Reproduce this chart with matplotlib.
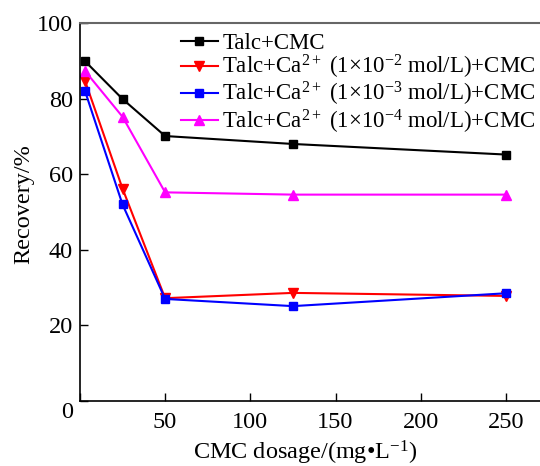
import matplotlib
matplotlib.use('Agg')
import matplotlib.pyplot as plt
import matplotlib.transforms as mtransforms

plt.rcParams['font.family'] = 'Liberation Serif'
plt.rcParams['mathtext.fontset'] = 'custom'
plt.rcParams['mathtext.rm'] = 'Liberation Serif'
plt.rcParams['mathtext.it'] = 'Liberation Serif:italic'

dosage = [3, 25, 50, 125, 250]
talc_cmc = [89.9, 79.9, 70.1, 68.0, 65.2]
ca_1e2 = [84.7, 56.2, 27.2, 28.6, 27.8]
ca_1e3 = [82.0, 52.0, 27.0, 25.1, 28.5]
ca_1e4 = [87.3, 75.2, 55.2, 54.6, 54.6]

labels = [
    'Talc+CMC',
    r'Talc+Ca$^{2+}$ (1×10$^{\mathregular{-2}}$ mol/L)+CMC',
    r'Talc+Ca$^{2+}$ (1×10$^{\mathregular{-3}}$ mol/L)+CMC',
    r'Talc+Ca$^{2+}$ (1×10$^{\mathregular{-4}}$ mol/L)+CMC',
]

fig = plt.figure(figsize=(5.4, 4.66), dpi=100)
ax = fig.add_axes([0.148, 0.1395, 0.852, 0.8111])

ax.plot(dosage, talc_cmc, color='black', marker='s', ms=6, lw=1.5, label=labels[0])
ax.plot(dosage, ca_1e2, color='#ff0000', marker='v', ms=7, lw=1.5, label=labels[1])
ax.plot(dosage, ca_1e3, color='#0000ff', marker='s', ms=6, lw=1.5, label=labels[2])
ax.plot(dosage, ca_1e4, color='#ff00ff', marker='^', ms=7, lw=1.5, label=labels[3])

ax.set_xlim(0, 270)
ax.set_ylim(0, 100)
ax.set_xticks([0, 50, 100, 150, 200, 250])
ax.set_xticklabels(['', '50', '100', '150', '200', '250'])
ax.set_yticks([0, 20, 40, 60, 80, 100])
ax.tick_params(direction='in', length=6, width=1, labelsize=17.5, pad=5)
ax.tick_params(axis='x', pad=8)

# shared origin label sits a bit lower
lab0 = ax.get_yticklabels()[0]
lab0.set_transform(lab0.get_transform() + mtransforms.ScaledTranslation(0, -9 / 100, fig.dpi_scale_trans))

ax.spines['right'].set_visible(False)
ax.spines['top'].set_color('#666666')
ax.spines['top'].set_linewidth(1.5)
ax.spines['left'].set_linewidth(1.2)
ax.spines['bottom'].set_linewidth(1.2)

ax.set_xlabel(r'CMC dosage/(mg•L$^{\mathregular{-1}}$)', fontsize=17.5)
ax.xaxis.set_label_coords(0.49, -0.1)
ax.set_ylabel('Recovery/%', fontsize=17.5)
ax.yaxis.set_label_coords(-0.1, 0.52)

ax.legend(loc='upper left', bbox_to_anchor=(0.19, 1.01), frameon=False, fontsize=16.5,
          handlelength=1.6, handletextpad=0.2, labelspacing=-0.04, borderaxespad=0.2)

fig.savefig('out.png', dpi=100)
